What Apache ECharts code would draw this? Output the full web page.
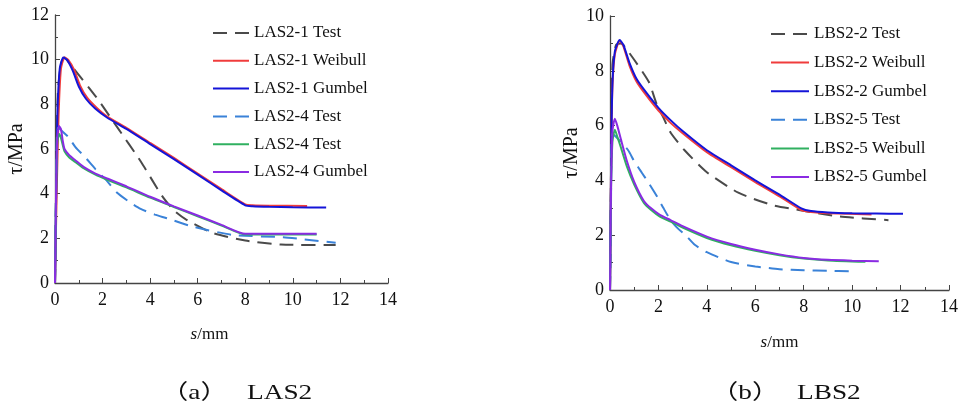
<!DOCTYPE html>
<html>
<head>
<meta charset="UTF-8"/>
<script src="https://cdn.jsdelivr.net/npm/echarts@6/dist/echarts.min.js"></script>
<style>
  html, body { margin: 0; padding: 0; background: #fff; }
  #c { width: 961px; height: 414px; }
</style>
</head>
<body>
<div id="c"></div>
<script>
// ---- data (s in mm, tau in MPa) ----
// (a) LAS2
const las21Test = [[0,0],[0.05,4.5],[0.12,8.5],[0.25,9.8],[0.4,10.1],[0.6,9.85],[1.75,8.3],[2.6,7.0],[3.6,5.45],[4.5,3.9],[5.0,3.25],[5.5,2.85],[6.6,2.25],[8,1.9],[9.5,1.72],[11.8,1.7]];
const las21Weibull = [[0,0],[0.07,4],[0.15,7.5],[0.25,9.6],[0.4,10.1],[0.55,10.0],[0.8,9.55],[1.05,8.85],[1.35,8.3],[1.75,7.85],[2.2,7.45],[3,6.95],[4,6.27],[5,5.6],[6,4.9],[7,4.2],[8,3.52],[8.3,3.48],[9,3.46],[10.6,3.45]];
const las21Gumbel = [[0,0],[0.05,4],[0.1,7.5],[0.2,9.6],[0.35,10.1],[0.5,10.0],[0.75,9.5],[1.0,8.8],[1.3,8.25],[1.7,7.8],[2.2,7.4],[3,6.9],[4,6.22],[5,5.55],[6,4.85],[7,4.15],[8,3.48],[8.3,3.44],[9,3.41],[10,3.39],[11.4,3.38]];
const las24Test = [[0,0],[0.05,4.5],[0.13,6.95],[0.55,6.55],[0.85,6.1],[1.25,5.65],[1.7,5.1],[2.2,4.55],[2.6,4.05],[3.1,3.65],[3.6,3.32],[4.2,3.06],[4.7,2.9],[5.8,2.52],[7.5,2.15],[9.6,2.05],[10.5,1.95],[11.8,1.8]];
const las24Weibull = [[0,0],[0.05,4.3],[0.1,6.3],[0.17,6.67],[0.25,6.5],[0.32,6.2],[0.4,5.9],[0.6,5.62],[0.85,5.42],[1.2,5.14],[1.7,4.85],[2.2,4.62],[3,4.28],[4,3.82],[5,3.4],[6,2.99],[7,2.57],[8,2.17],[9,2.17],[11,2.17]];
const las24Gumbel = [[0,0],[0.05,4.5],[0.1,6.6],[0.17,7.03],[0.25,6.9],[0.32,6.4],[0.4,6.0],[0.6,5.72],[0.85,5.5],[1.2,5.2],[1.7,4.9],[2.2,4.68],[3,4.33],[4,3.86],[5,3.43],[6,3.02],[7,2.6],[8,2.2],[9,2.2],[11,2.2]];

// (b) LBS2
const lbs22Test = [[0,0],[0.05,5],[0.1,8.2],[0.25,8.95],[0.45,9.0],[0.8,8.65],[1.6,7.6],[1.9,6.85],[2.2,6.3],[2.5,5.75],[3.08,5.1],[4,4.3],[5.3,3.55],[6.7,3.1],[7.8,2.92],[9.5,2.68],[11.5,2.55]];
const lbs22Weibull = [[0,0],[0.05,5],[0.1,7.4],[0.2,8.6],[0.4,9.1],[0.55,8.9],[0.8,8.2],[1.1,7.6],[1.5,7.1],[2,6.55],[2.5,6.1],[3,5.72],[4,5.03],[5,4.48],[6,3.94],[7,3.42],[7.9,2.92],[8.3,2.85],[9,2.8],[10.8,2.76]];
const lbs22Gumbel = [[0,0],[0.05,5],[0.1,7.5],[0.2,8.7],[0.4,9.12],[0.55,8.95],[0.8,8.3],[1.1,7.7],[1.5,7.2],[2,6.65],[2.5,6.2],[3,5.8],[4,5.1],[5,4.55],[6,4.0],[7,3.48],[7.9,2.98],[8.3,2.88],[9,2.83],[10,2.8],[11,2.79],[12.1,2.78]];
const lbs25Test = [[0,0],[0.04,3],[0.1,5.7],[0.4,5.45],[0.75,5.1],[1.0,4.7],[1.3,4.3],[1.6,3.9],[1.95,3.4],[2.2,3.0],[2.5,2.55],[2.8,2.25],[3.1,2.02],[3.5,1.65],[4,1.38],[5,1.02],[6,0.86],[7,0.76],[8,0.72],[9,0.7],[9.9,0.68]];
const lbs25Weibull = [[0,0],[0.04,3.5],[0.1,5.4],[0.2,5.85],[0.3,5.6],[0.45,5.2],[0.7,4.5],[1,3.85],[1.4,3.18],[1.7,2.92],[2.06,2.68],[2.5,2.5],[3,2.28],[4,1.9],[5,1.63],[6,1.43],[7,1.27],[8,1.15],[9,1.08],[10.55,1.03]];
const lbs25Gumbel = [[0,0],[0.04,3.5],[0.1,5.8],[0.2,6.25],[0.3,6.0],[0.45,5.5],[0.7,4.7],[1,3.95],[1.4,3.25],[1.7,2.98],[2.06,2.74],[2.5,2.55],[3,2.33],[4,1.95],[5,1.68],[6,1.47],[7,1.3],[8,1.17],[9,1.1],[10,1.07],[11.1,1.05]];

// trailing space on the green one: the figure labels it "Test" too
const namesA = ['LAS2-1 Test', 'LAS2-1 Weibull', 'LAS2-1 Gumbel', 'LAS2-4 Test', 'LAS2-4 Test ', 'LAS2-4 Gumbel'];
const namesB = ['LBS2-2 Test', 'LBS2-2 Weibull', 'LBS2-2 Gumbel', 'LBS2-5 Test', 'LBS2-5 Weibull', 'LBS2-5 Gumbel'];
const dataA = [las21Test, las21Weibull, las21Gumbel, las24Test, las24Weibull, las24Gumbel];
const dataB = [lbs22Test, lbs22Weibull, lbs22Gumbel, lbs25Test, lbs25Weibull, lbs25Gumbel];

const colors = ['#4a4a4a', '#f03c3c', '#1414d8', '#3a82d8', '#30b060', '#8a2be2'];
const dashed = [true, false, false, true, false, false];

const SERIF = '"Liberation Serif", "Times New Roman", serif';
const AXIS_COLOR = '#444';

function xAx(gi, gap, pad) {
    return {
        gridIndex: gi, type: 'value', min: 0, max: 14, interval: 2,
        name: '{i|s}/mm', nameLocation: 'middle', nameGap: gap,
        nameTextStyle: { fontFamily: SERIF, fontSize: 17, color: '#111', padding: pad,
            rich: { i: { fontFamily: SERIF, fontStyle: 'italic', fontSize: 17, color: '#111' } } },
        axisLine: { onZero: false, lineStyle: { color: AXIS_COLOR, width: 1.3 } },
        axisTick: { inside: true, length: 5, lineStyle: { color: AXIS_COLOR } },
        minorTick: { show: true, splitNumber: 2, length: 3, lineStyle: { color: AXIS_COLOR } },
        axisLabel: { fontFamily: SERIF, fontSize: 18, color: '#111', margin: 8 },
        splitLine: { show: false }
    };
}
function yAx(gi, max, gap) {
    return {
        gridIndex: gi, type: 'value', min: 0, max: max, interval: 2,
        name: 'τ/MPa', nameLocation: 'middle', nameGap: gap,
        nameTextStyle: { fontFamily: SERIF, fontSize: 20, color: '#111' },
        axisLine: { onZero: false, lineStyle: { color: AXIS_COLOR, width: 1.3 } },
        axisTick: { inside: true, length: 5, lineStyle: { color: AXIS_COLOR } },
        minorTick: { show: true, splitNumber: 2, length: 3, lineStyle: { color: AXIS_COLOR } },
        axisLabel: { fontFamily: SERIF, fontSize: 18, color: '#111', margin: 6 },
        splitLine: { show: false }
    };
}
function mkSeries(names, data, gi) {
    return names.map((n, i) => ({
        name: n, type: 'line', xAxisIndex: gi, yAxisIndex: gi,
        data: data[i], symbol: 'none', smooth: 0.2, z: 2 + i,
        lineStyle: { color: colors[i], width: 2, type: dashed[i] ? [14, 8] : 'solid' },
        itemStyle: { color: colors[i] }
    }));
}
function mkLegend(names, left, top, gap, itemW) {
    return {
        data: names, orient: 'vertical', left: left, top: top,
        itemWidth: itemW, itemHeight: 14, itemGap: gap,
        selectedMode: false,
        itemStyle: { opacity: 0 },
        textStyle: { fontFamily: SERIF, fontSize: 17, color: '#111', lineHeight: 18 }
    };
}
// caption pieces, the original type is stretched wide
function caption(text, x, font) {
    return {
        type: 'text', x: x, y: 393, scaleX: 1.3,
        style: { text: text, font: font, fill: '#111', verticalAlign: 'middle' }
    };
}
const CJK_FONT = '21px "Liberation Serif", "Noto Sans CJK SC"';
const LAT_FONT = '21px "Liberation Serif"';

const chart = echarts.init(document.getElementById('c'), null, { renderer: 'canvas' });
chart.setOption({
    animation: false,
    backgroundColor: '#fff',
    grid: [
        { left: 55, top: 15, width: 333, height: 268 },
        { left: 610, top: 16, width: 341, height: 274 }
    ],
    xAxis: [xAx(0, 43, [0, 24, 0, 0]), xAx(1, 44, 0)],
    yAxis: [yAx(0, 12, 27), yAx(1, 10, 24)],
    legend: [
        mkLegend(namesA, 207, 19, 9.8, 36),
        mkLegend(namesB, 765, 20, 10.6, 38)
    ],
    graphic: [
        caption('（a）', 161, CJK_FONT),
        caption('LAS2', 247, LAT_FONT),
        caption('（b）', 711, CJK_FONT),
        caption('LBS2', 797, LAT_FONT)
    ],
    series: mkSeries(namesA, dataA, 0).concat(mkSeries(namesB, dataB, 1))
});
</script>
</body>
</html>
